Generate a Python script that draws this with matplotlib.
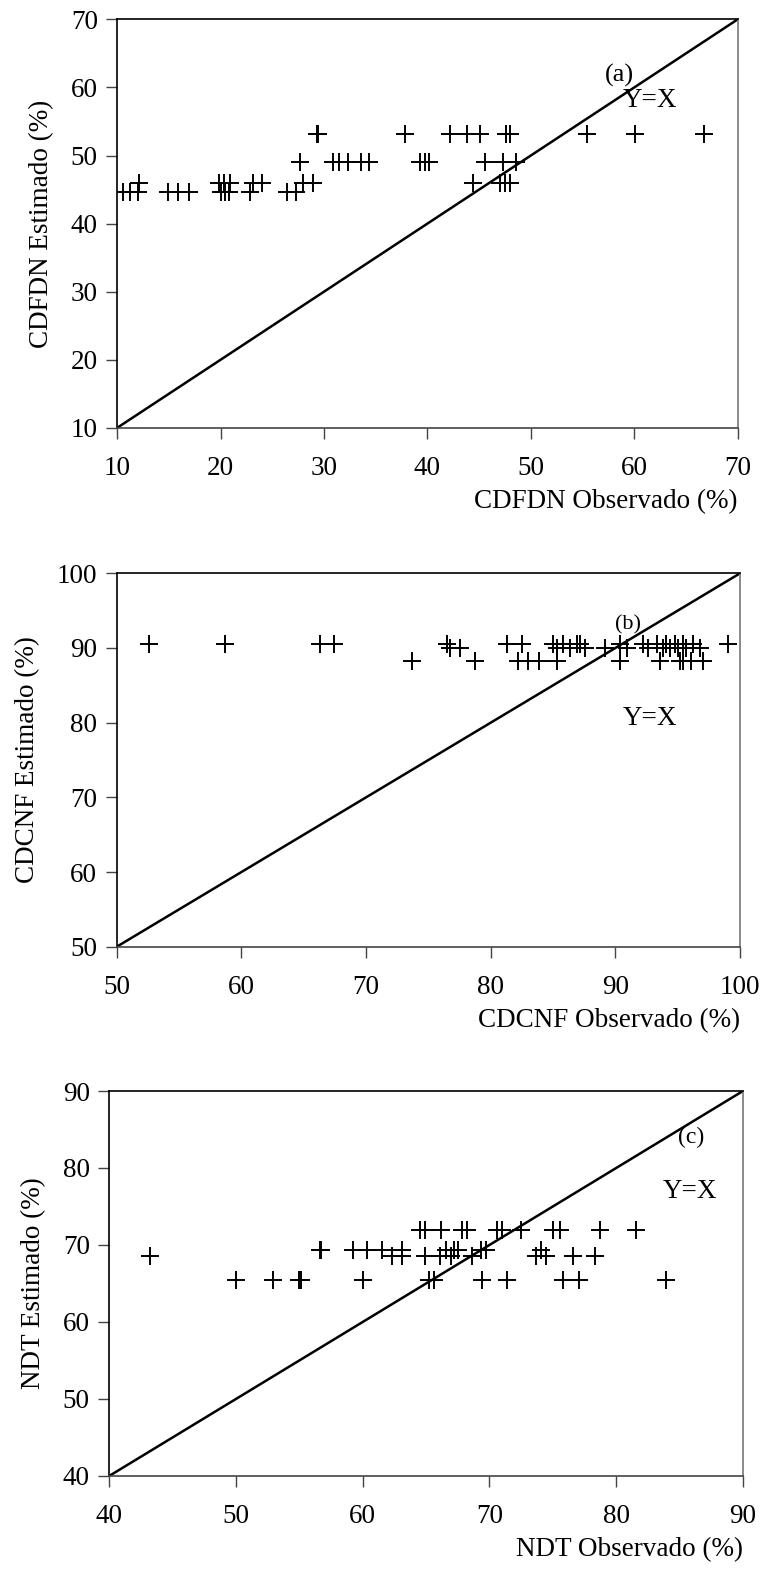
import numpy as np
import matplotlib
matplotlib.use('Agg')
import matplotlib.pyplot as plt

plt.rcParams['font.family'] = ['Liberation Serif', 'DejaVu Serif']

# (a) CDFDN: observed values per estimated level
a_lev = [53.2, 49.1, 46.0, 44.6]
a_obs = [
    [29.3, 29.4, 37.8, 42.2, 43.8, 45.1, 47.6, 48.0, 55.4, 60.1, 66.7],
    [27.7, 30.9, 31.4, 32.3, 33.6, 34.3, 39.3, 39.8, 40.1, 45.6, 47.3, 48.6],
    [12.1, 19.8, 20.3, 20.9, 23.1, 24.0, 28.0, 28.9, 44.4, 47.0, 47.5, 48.0],
    [10.6, 11.2, 12.0, 14.9, 15.9, 16.9, 20.0, 20.4, 20.8, 22.8, 26.4, 27.3],
]

# (b) CDCNF
b_lev = [90.5, 90.0, 88.2]
b_obs = [
    [52.6, 58.7, 66.3, 67.4, 76.5, 81.3, 82.5, 85.0, 85.8, 86.9, 87.2, 90.4,
     92.2, 93.3, 94.1, 94.8, 95.4, 96.2, 99.0],
    [76.7, 77.5, 85.3, 86.4, 87.6, 89.2, 90.9, 92.6, 93.8, 94.4, 95.0, 95.7, 96.8],
    [73.7, 78.7, 82.2, 83.0, 83.9, 85.3, 90.4, 93.6, 95.2, 95.4, 96.1, 97.0],
]

# (c) NDT
c_lev = [72.0, 69.4, 68.6, 65.5]
c_obs = [
    [64.5, 64.9, 66.2, 67.8, 68.2, 70.6, 71.0, 72.5, 75.0, 75.6, 78.7, 81.6],
    [56.6, 56.7, 59.2, 60.3, 61.5, 63.1, 66.6, 67.2, 67.5, 69.3, 69.7, 74.1],
    [43.2, 62.3, 63.1, 64.9, 66.1, 67.0, 68.6, 73.7, 74.5, 76.6, 78.3],
    [50.0, 52.9, 55.0, 55.1, 60.0, 65.2, 65.6, 69.4, 71.4, 75.8, 77.1, 83.9],
]

panels = [
    dict(lev=a_lev, obs=a_obs, lim=(10, 70), ticks=range(10, 71, 10),
         xl='CDFDN Observado (%)', yl='CDFDN Estimado (%)',
         tag='(a)', tag_xy=(58.6, 61.8), eq_xy=(61.5, 58.1), tag_fs=19,
         rect=[0.1537, 0.7284, 0.8131, 0.2593]),
    dict(lev=b_lev, obs=b_obs, lim=(50, 100), ticks=range(50, 101, 10),
         xl='CDCNF Observado (%)', yl='CDCNF Estimado (%)',
         tag='(b)', tag_xy=(91.0, 93.1), eq_xy=(92.8, 80.6), tag_fs=16,
         rect=[0.1530, 0.3989, 0.8169, 0.2371]),
    dict(lev=c_lev, obs=c_obs, lim=(40, 90), ticks=range(40, 91, 10),
         xl='NDT Observado (%)', yl='NDT Estimado (%)',
         tag='(c)', tag_xy=(85.9, 84.0), eq_xy=(85.8, 76.9), tag_fs=17,
         rect=[0.1432, 0.0629, 0.8305, 0.2444]),
]

fig = plt.figure(figsize=(7.63, 15.75), dpi=100)

for p in panels:
    ax = fig.add_axes(p['rect'])
    for lv, xs in zip(p['lev'], p['obs']):
        ax.plot(xs, [lv] * len(xs), '+', color='black', markersize=13, mew=1.4)
    lo, hi = p['lim']
    ax.plot([lo, hi], [lo, hi], color='black', lw=1.8)
    ax.set_xlim(lo, hi)
    ax.set_ylim(lo, hi)
    ax.set_xticks(list(p['ticks']))
    ax.set_yticks(list(p['ticks']))
    ax.tick_params(direction='out', length=8, width=1, labelsize=19.5, color='#444444')
    ax.tick_params(axis='x', pad=12)
    ax.tick_params(axis='y', pad=6)
    for s in ['left', 'top']:
        ax.spines[s].set_color('black')
    ax.spines['bottom'].set_color('#444444')
    ax.spines['right'].set_color('#777777')
    for s in ax.spines.values():
        s.set_linewidth(1.2)
    ax.set_xlabel(p['xl'], fontsize=19.5, loc='right', labelpad=6)
    ax.set_ylabel(p['yl'], fontsize=19.5, labelpad=12)
    ax.text(p['tag_xy'][0], p['tag_xy'][1], p['tag'], fontsize=p['tag_fs'], ha='center', va='center')
    ax.text(p['eq_xy'][0], p['eq_xy'][1], 'Y=X', fontsize=19.5, ha='center', va='center')

fig.savefig('out.png', dpi=100)
